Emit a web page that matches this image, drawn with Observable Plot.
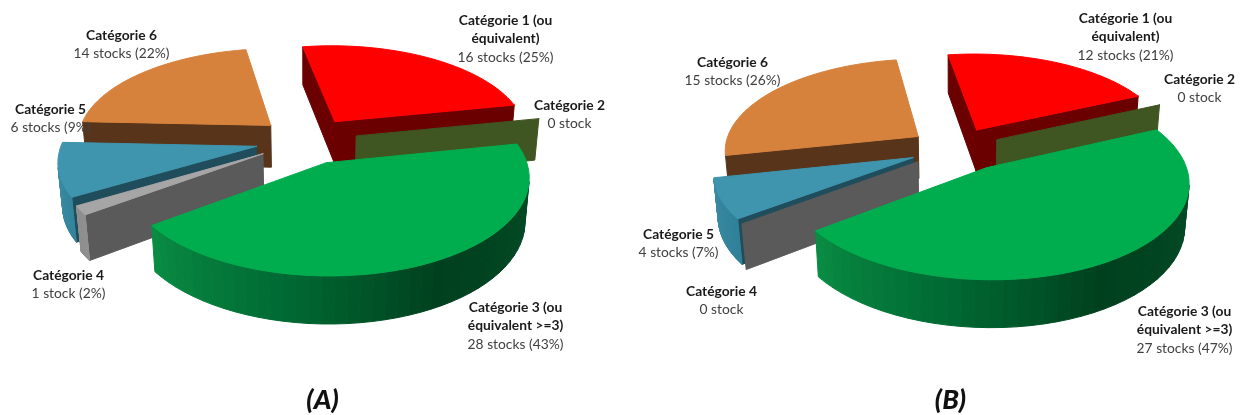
<!DOCTYPE html>
<html><head><meta charset="utf-8">
<style>html,body{margin:0;padding:0;background:#fff}svg{display:block;filter:blur(0.35px)}</style>
<script src="https://cdn.jsdelivr.net/npm/d3@7"></script>
<script src="https://cdn.jsdelivr.net/npm/@observablehq/plot@0.6"></script>
</head><body>
<script>
const categories = ["Catégorie 1 (ou\néquivalent)", "Catégorie 2", "Catégorie 3 (ou\néquivalent >=3)", "Catégorie 4", "Catégorie 5", "Catégorie 6"];
const stocksA = [16, 0, 28, 1, 6, 14];
const stocksB = [12, 0, 27, 0, 4, 15];
const panelNames = ["(A)", "(B)"];

// Slice colours, one entry per category
const topColors = ["#ff0000", "#9bbb59", "#00ad4e", "#a6a6a6", "#3f94ae", "#d7823c"];
const sideColors = ["#6a0000", "#3f5522", "#00602c", "#5a5a5a", "#1f4d5b", "#58341a"];
const rimStops = [[[0,"#6a0000"],[360,"#6a0000"]], [[0,"#3f5522"],[360,"#3f5522"]], [[70,"#06502a"],[150,"#00401e"],[190,"#006a33"],[235,"#0a8f45"]], [[0,"#9a9a9a"],[360,"#8a8a8a"]], [[230,"#2f7f98"],[270,"#3f90a9"]], [[0,"#58341a"],[360,"#58341a"]]];
const paintOrder = [0, 5, 1, 4, 3, 2];

// Projection settings of the two 3D pies
const views = [
  {cx: 307, cy: 140, radius: 194, explode: 50, depth: 49, rotate: -10, nudge: [0,0,-2,-2,-2,0], labels: [[505,20],[569,105],[515,307],[68,275],[50,109],[121,35]], nameX: 322},
  {cx: 955, cy: 148, radius: 194, explode: 46, depth: 49, rotate: -9, nudge: [0,0,7,0,0,0], labels: [[1125,18],[1199,79],[1184,311],[721,291],[678,234],[732,62]], nameX: 950}
];
const tilt = 28 * Math.PI / 180, persp = 0.0008, arcSteps = 48, lineGap = 18.5;

function project(v, X, Y, Z) {
  const d = Y * Math.cos(tilt) + Z * Math.sin(tilt), f = 1 / (1 - d * persp);
  return [v.cx + X * f, v.cy + (Y * Math.sin(tilt) - Z * Math.cos(tilt)) * f];
}
const faces = [];
function addFace(id, pts, color) {
  pts.forEach(([x, y]) => faces.push({id, x, y, color}));
}
function area(p) { let s = 0; p.forEach((a, i) => { const b = p[(i + 1) % p.length]; s += a[0] * b[1] - b[0] * a[1]; }); return s; }

function buildPie(values, v, pi) {
  const total = d3.sum(values);
  let a0 = v.rotate;
  const spans = values.map(n => { const s = a0; a0 += n / total * 360; return [s, a0]; });
  for (const i of paintOrder) {
    const [s, e] = spans[i], mid = ((s + e) / 2) * Math.PI / 180;
    const ax = v.explode * Math.sin(mid) + v.nudge[i], ay = -v.explode * Math.cos(mid);
    const rim = t => [ax + v.radius * Math.sin(t * Math.PI / 180), ay - v.radius * Math.cos(t * Math.PI / 180)];
    const ts = d3.range(arcSteps + 1).map(k => s + (e - s) * k / arcSteps);
    const wall = (a, b, color, id) => {
      const q = [project(v, a[0], a[1], 0), project(v, b[0], b[1], 0), project(v, b[0], b[1], -v.depth), project(v, a[0], a[1], -v.depth)];
      if (area(q) < -1e-6) addFace(id, [...q, q[0]], color);
    };
    const ramp = d3.scaleLinear().domain(rimStops[i].map(d => d[0])).range(rimStops[i].map(d => d[1])).clamp(true);
    wall([ax, ay], rim(s), sideColors[i], `${pi}-${i}-start`);
    wall(rim(e), [ax, ay], sideColors[i], `${pi}-${i}-end`);
    if (e > s) {
      ts.slice(0, -1).forEach((t, k) => wall(rim(t), rim(ts[k + 1]), ramp(t), `${pi}-${i}-rim${k}`));
      const top = [[ax, ay], ...ts.map(rim)].map(p => project(v, p[0], p[1], 0));
      addFace(`${pi}-${i}-top`, [...top, top[0]], topColors[i]);
    }
  }
}
const series = [stocksA, stocksB];
views.forEach((v, pi) => buildPie(series[pi], v, pi));

const stockText = (n, total) => n === 0 ? "0 stock" : `${n} ${n === 1 ? "stock" : "stocks"} (${Math.round(n / total * 100)}%)`;
const boldRows = [], plainRows = [];
views.forEach((v, pi) => {
  const total = d3.sum(series[pi]);
  categories.forEach((c, i) => {
    const names = c.split("\n"), [x, y] = v.labels[i];
    names.forEach((t, k) => boldRows.push({x, y: y + k * lineGap, t}));
    plainRows.push({x, y: y + names.length * lineGap, t: stockText(series[pi][i], total)});
  });
});
const nameRows = views.map((v, pi) => ({x: v.nameX, y: 400, t: panelNames[pi]}));

const font = "Lato, 'Open Sans', sans-serif";
const chart = Plot.plot({
  width: 1244, height: 415, margin: 0,
  x: {domain: [0, 1244], range: [0, 1244], axis: null},
  y: {domain: [0, 415], range: [0, 415], axis: null},
  color: {type: "identity"},
  style: {background: "#fff"},
  marks: [
    Plot.line(faces, {x: "x", y: "y", z: "id", fill: "color", stroke: "color", strokeWidth: 1, curve: "linear"}),
    Plot.text(boldRows, {x: "x", y: "y", text: "t", fontFamily: font, fontWeight: 700, fontSize: 13.8, fill: "#1a1a1a", textAnchor: "middle", lineAnchor: "middle"}),
    Plot.text(plainRows, {x: "x", y: "y", text: "t", fontFamily: font, fontWeight: 400, fontSize: 13.8, fill: "#404040", textAnchor: "middle", lineAnchor: "middle"}),
    Plot.text(nameRows, {x: "x", y: "y", text: "t", fontFamily: font, fontWeight: 900, fontStyle: "italic", fontSize: 27, fill: "#111", textAnchor: "middle", lineAnchor: "middle"})
  ]
});
document.body.append(chart);
</script>
</body></html>
